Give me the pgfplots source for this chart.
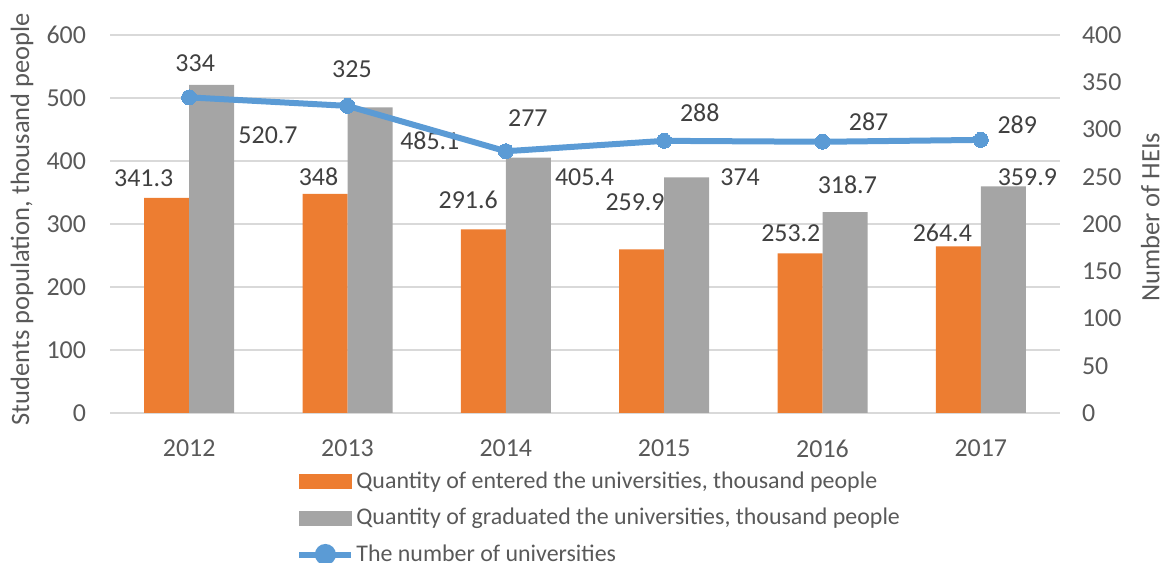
\documentclass[border=0pt]{standalone}
\usepackage{fontspec}
\setmainfont{Carlito}
\usepackage{pgfplots}
\pgfplotsset{compat=1.18}
\definecolor{orangeC}{HTML}{ED7D31}
\definecolor{grayC}{HTML}{A5A5A5}
\definecolor{blueC}{HTML}{5B9BD5}
\definecolor{gridC}{HTML}{D9D9D9}
\definecolor{tickC}{HTML}{595959}
\definecolor{labelC}{HTML}{404040}
\tikzset{dl/.style={font=\fontsize{13}{15}\selectfont, text=labelC, inner sep=0pt}}
\pgfplotsset{
  orangeleg/.style={legend image code/.code={\fill[orangeC] (0bp,-3.5bp) rectangle (26bp,3.5bp);}},
  grayleg/.style={legend image code/.code={\fill[grayC] (0bp,-3.5bp) rectangle (26bp,3.5bp);}},
  blueleg/.style={legend image code/.code={\draw[blueC, line width=3bp] (0bp,0bp) -- (26bp,0bp); \fill[blueC] (13bp,0bp) circle (3.75bp);}},
}
\begin{document}
\begin{tikzpicture}
\useasboundingbox (0,0) rectangle (583bp,281.5bp);
\begin{axis}[
  at={(55bp,75bp)}, anchor=south west, scale only axis,
  width=475bp, height=189bp,
  xmin=-0.5, xmax=5.5, ymin=0, ymax=600,
  ytick={0,100,...,600},
  xtick={0,...,5}, xticklabels={2012,2013,2014,2015,2016,2017},
  axis line style={draw=none}, major tick style={draw=none},
  ymajorgrids, grid style={gridC, line width=0.9bp},
  ybar=0pt, bar width=22.5bp,
  clip=false,
  /pgf/number format/assume math mode=true,
  yticklabel style={font=\fontsize{13}{15}\selectfont, text=tickC, xshift=-8.5bp},
  xticklabel style={font=\fontsize{13}{15}\selectfont, text=tickC, yshift=-5.5bp},
  ylabel={Students population, thousand people},
  ylabel style={at={(axis description cs:-0.0926,0.513)}, anchor=center, rotate=0, font=\fontsize{13.3}{15}\selectfont, text=tickC},
]
\addplot[fill=orangeC, draw=none] coordinates {(0,341.3)(1,348)(2,291.6)(3,259.9)(4,253.2)(5,264.4)};
\addplot[fill=grayC, draw=none] coordinates {(0,520.7)(1,485.1)(2,405.4)(3,374)(4,318.7)(5,359.9)};
% orange labels
\node[dl] at (axis cs:-0.287,373) {341.3};
\node[dl] at (axis cs:0.817,375) {348};
\node[dl] at (axis cs:1.762,338) {291.6};
\node[dl] at (axis cs:2.816,335) {259.9};
\node[dl] at (axis cs:3.80,286) {253.2};
\node[dl] at (axis cs:4.757,286) {264.4};
% gray labels
\node[dl] at (axis cs:0.498,441) {520.7};
\node[dl] at (axis cs:1.52,432) {485.1};
\node[dl] at (axis cs:2.497,375) {405.4};
\node[dl] at (axis cs:3.48,375) {374};
\node[dl] at (axis cs:4.157,362) {318.7};
\node[dl] at (axis cs:5.294,375) {359.9};
% line labels
\node[dl] at (axis cs:0.038,556) {334};
\node[dl] at (axis cs:1.028,546) {325};
\node[dl] at (axis cs:2.139,468) {277};
\node[dl] at (axis cs:3.225,476) {288};
\node[dl] at (axis cs:4.291,462) {287};
\node[dl] at (axis cs:5.23,457) {289};
\end{axis}
\begin{axis}[
  at={(55bp,75bp)}, anchor=south west, scale only axis,
  width=475bp, height=189bp,
  xmin=-0.5, xmax=5.5, ymin=0, ymax=400,
  ytick={0,50,...,400},
  axis y line*=right, hide x axis,
  axis line style={draw=none}, major tick style={draw=none},
  clip=false,
  /pgf/number format/assume math mode=true,
  yticklabel style={font=\fontsize{13}{15}\selectfont, text=tickC, xshift=7.5bp},
  ylabel={Number of HEIs},
  ylabel style={at={(axis description cs:1.095,0.518)}, anchor=center, rotate=0, font=\fontsize{13.3}{15}\selectfont, text=tickC},
  legend style={at={(0.1895,-0.14)}, anchor=north west, draw=none, fill=none,
    font=\fontsize{12}{14}\selectfont, text=tickC, row sep=7.3bp,
    nodes={inner sep=0pt, text height=9bp, text depth=2bp},
    /tikz/every odd column/.append style={column sep=1bp}},
  legend cell align=left,
]
\addlegendimage{orangeleg}
\addlegendentry{Quantity of entered the universities, thousand people}
\addlegendimage{grayleg}
\addlegendentry{Quantity of graduated the universities, thousand people}
\addplot[blueC, line width=3bp, mark=*, mark size=3.75bp, mark options={fill=blueC, draw=blueC, line width=0pt}, blueleg]
  coordinates {(0,334)(1,325)(2,277)(3,288)(4,287)(5,289)};
\addlegendentry{The number of universities}
\end{axis}
\end{tikzpicture}
\end{document}
